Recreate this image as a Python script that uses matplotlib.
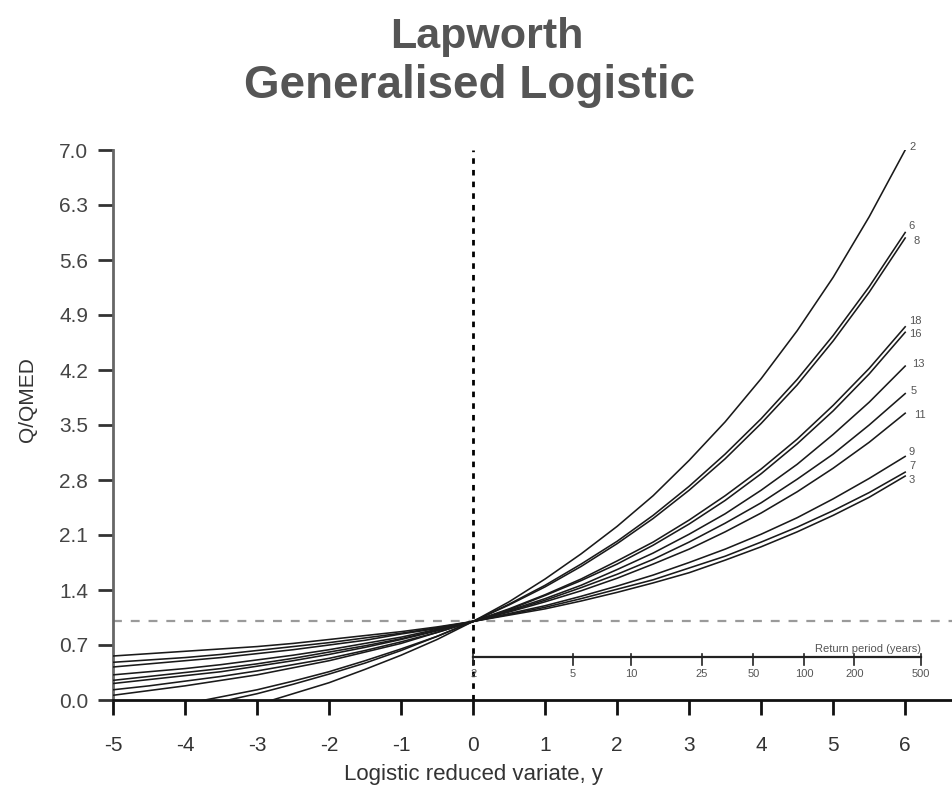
import numpy as np
import matplotlib
matplotlib.use("Agg")
import matplotlib.pyplot as plt
import matplotlib.transforms as mtransforms

plt.rcParams['font.family'] = ['Liberation Sans', 'DejaVu Sans']

# ---- data ----
y_variate = [-5, -4.5, -4, -3.5, -3, -2.5, -2, -1.5, -1, -0.5, 0,
             0.5, 1, 1.5, 2, 2.5, 3, 3.5, 4, 4.5, 5, 5.5, 6]

curve_labels = ["2", "6", "8", "18", "16", "13", "5", "11", "9", "7", "3"]
curve_2  = [-0.46, -0.37, -0.28, -0.17, -0.06, 0.08, 0.22, 0.39, 0.57, 0.77, 1.0,
            1.25, 1.54, 1.86, 2.21, 2.60, 3.05, 3.54, 4.09, 4.70, 5.38, 6.15, 7.00]
curve_6  = [-0.27, -0.20, -0.11, -0.02, 0.08, 0.20, 0.33, 0.47, 0.63, 0.81, 1.0,
            1.22, 1.46, 1.73, 2.02, 2.35, 2.72, 3.13, 3.58, 4.08, 4.64, 5.26, 5.95]
curve_8  = [-0.20, -0.13, -0.05, 0.04, 0.13, 0.24, 0.36, 0.50, 0.65, 0.81, 1.0,
            1.21, 1.44, 1.70, 1.99, 2.31, 2.67, 3.07, 3.52, 4.01, 4.57, 5.19, 5.88]
curve_18 = [0.06, 0.12, 0.18, 0.25, 0.32, 0.41, 0.50, 0.61, 0.72, 0.86, 1.0,
            1.16, 1.34, 1.54, 1.77, 2.01, 2.29, 2.60, 2.94, 3.32, 3.75, 4.22, 4.75]
curve_16 = [0.13, 0.18, 0.24, 0.30, 0.37, 0.45, 0.53, 0.63, 0.74, 0.86, 1.0,
            1.15, 1.33, 1.52, 1.73, 1.97, 2.24, 2.54, 2.88, 3.26, 3.68, 4.15, 4.68]
curve_13 = [0.21, 0.26, 0.31, 0.36, 0.43, 0.50, 0.58, 0.67, 0.77, 0.88, 1.0,
            1.14, 1.29, 1.46, 1.66, 1.87, 2.11, 2.37, 2.67, 3.00, 3.38, 3.79, 4.25]
curve_5  = [0.25, 0.30, 0.35, 0.40, 0.46, 0.53, 0.61, 0.69, 0.78, 0.89, 1.0,
            1.13, 1.27, 1.43, 1.60, 1.79, 2.01, 2.25, 2.51, 2.81, 3.13, 3.50, 3.90]
curve_11 = [0.32, 0.36, 0.40, 0.45, 0.51, 0.57, 0.64, 0.72, 0.80, 0.90, 1.0,
            1.12, 1.25, 1.39, 1.55, 1.73, 1.92, 2.14, 2.38, 2.65, 2.95, 3.28, 3.65]
curve_9  = [0.42, 0.46, 0.50, 0.54, 0.59, 0.64, 0.70, 0.76, 0.84, 0.91, 1.0,
            1.10, 1.20, 1.32, 1.45, 1.59, 1.75, 1.92, 2.11, 2.32, 2.56, 2.82, 3.10]
curve_7  = [0.48, 0.51, 0.54, 0.58, 0.63, 0.68, 0.73, 0.79, 0.85, 0.92, 1.0,
            1.09, 1.18, 1.29, 1.41, 1.53, 1.68, 1.83, 2.01, 2.20, 2.41, 2.64, 2.90]
curve_3  = [0.56, 0.59, 0.62, 0.65, 0.68, 0.72, 0.77, 0.82, 0.87, 0.93, 1.0,
            1.08, 1.16, 1.26, 1.37, 1.49, 1.62, 1.78, 1.95, 2.14, 2.35, 2.58, 2.85]
curves = [curve_2, curve_6, curve_8, curve_18, curve_16, curve_13,
          curve_5, curve_11, curve_9, curve_7, curve_3]

y_ticks = [0.0, 0.7, 1.4, 2.1, 2.8, 3.5, 4.2, 4.9, 5.6, 6.3, 7.0]
x_ticks = [-5, -4, -3, -2, -1, 0, 1, 2, 3, 4, 5, 6]

return_periods = [2, 5, 10, 25, 50, 100, 200, 500]
return_axis_level = 0.55

# ---- figure ----
fig = plt.figure(figsize=(9.52, 7.86), dpi=100)
ax = fig.add_axes([113/952, 86/786, 839/952, 550/786])
ax.set_xlim(-5, 6.65)
ax.set_ylim(0, 7.0)

# reference lines
ax.axhline(1.0, color='#9a9a9a', lw=1.6, ls=(0, (4, 4)), zorder=1)
ax.plot([0, 0], [0, 7.0], color='black', lw=2.0, ls=(0, (2, 2.2)), zorder=1)

# growth curves
for vals in curves:
    ax.plot(y_variate, vals, color='#1a1a1a', lw=1.15, zorder=3)

# curve labels at right ends
label_offsets = [0.04, 0.08, -0.04, 0.08, -0.02, 0.03, 0.03, -0.02, 0.06, 0.08, -0.05]
label_dx = [0.06, 0.05, 0.12, 0.05, 0.05, 0.10, 0.08, 0.12, 0.05, 0.06, 0.05]
for lab, vals, dy, dx in zip(curve_labels, curves, label_offsets, label_dx):
    ax.text(y_variate[-1] + dx, vals[-1] + dy, lab, fontsize=8, color='#555555',
            ha='left', va='center', zorder=4)

# return period axis
rp_pos = [np.log(T - 1) for T in return_periods]
ax.plot([rp_pos[0], rp_pos[-1]], [return_axis_level, return_axis_level],
        color='#222222', lw=1.6, zorder=3)
for T, p in zip(return_periods, rp_pos):
    ax.plot([p, p], [return_axis_level + 0.04, return_axis_level - 0.10],
            color='#222222', lw=1.2, zorder=3)
    ax.text(p, return_axis_level - 0.22, str(T), fontsize=8, color='#555555',
            ha='center', va='center', zorder=4)
ax.text(rp_pos[-1], return_axis_level + 0.04, "Return period (years)", fontsize=8,
        color='#555555', ha='right', va='bottom', zorder=4)

# axes styling
for s in ['top', 'right']:
    ax.spines[s].set_visible(False)
ax.spines['left'].set_color('#666666')
ax.spines['left'].set_linewidth(2.0)
ax.spines['bottom'].set_color('#111111')
ax.spines['bottom'].set_linewidth(2.0)

ax.set_yticks(y_ticks)
ax.set_yticklabels([f"{v:.1f}" for v in y_ticks])
ax.set_xticks(x_ticks)
ax.set_xticklabels([str(v) for v in x_ticks])
ax.tick_params(axis='y', direction='out', length=11, width=2, color='#333333',
               labelsize=15, labelcolor='#444444', pad=7)
ax.tick_params(axis='x', direction='out', length=11, width=2, color='#111111',
               labelsize=15, labelcolor='#333333', pad=15)

# axis labels
trans = mtransforms.blended_transform_factory(ax.transData, ax.transAxes)
ax.text(0, -0.135, "Logistic reduced variate, y", transform=trans, fontsize=16,
        color='#333333', ha='center', va='center')
fig.text(28/952, 1 - 400/786, "Q/QMED", rotation=90, fontsize=15, color='#333333',
         ha='center', va='center')

# title
fig.text(487/952, 1 - 37/786, "Lapworth", fontsize=31, fontweight='bold',
         color='#555555', ha='center', va='center')
fig.text(470/952, 1 - 86/786, "Generalised Logistic", fontsize=33, fontweight='bold',
         color='#555555', ha='center', va='center')

fig.savefig("out.png", dpi=100)
